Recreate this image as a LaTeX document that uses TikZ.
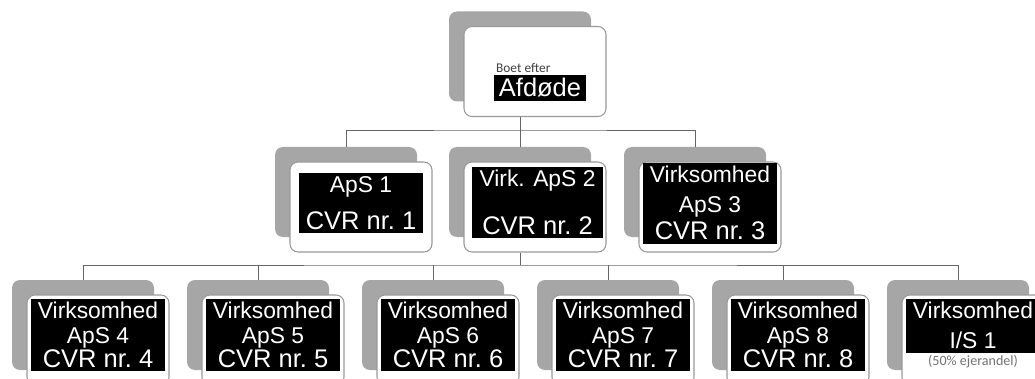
\documentclass[tikz,border=0pt]{standalone}
\usepackage{fontspec}
\setmainfont{Liberation Sans}
\newfontfamily\calfont{Carlito}
\usetikzlibrary{positioning}
\newcommand{\cvrfont}{\fontsize{14.5}{17}\selectfont}
\tikzset{
  shadowbox/.style={rectangle,rounded corners=0.16cm,fill=black!35,minimum width=2.84cm,minimum height=1.8cm,inner sep=0},
  frontbox/.style={rectangle,rounded corners=0.16cm,draw=black!40,line width=0.6pt,fill=white,minimum width=2.84cm,minimum height=1.8cm,inner sep=0},
  blacklabel/.style={rectangle,fill=black,text=white,align=center,inner xsep=4pt,inner ysep=2pt},
  treeline/.style={line width=0.5pt,color=black!60},
}
\begin{document}
\begin{tikzpicture}[font=\fontsize{13}{17}\selectfont]
\useasboundingbox (0,0) rectangle (20.7,7.56);
\clip (0,0) rectangle (20.7,7.56);

% top box
\node (S0) [shadowbox] at (10.4,6.43) {};
\node (B0) [frontbox] at (10.7,6.13) {};
\node (T0) [blacklabel,font=\fontsize{14.5}{17}\selectfont,inner xsep=3pt] at (10.8,5.8) {Afdøde};
\node (E0) [above=1pt of T0.north west,anchor=south west,xshift=0.05cm,inner sep=0,font=\calfont\fontsize{7.6}{9}\selectfont,text=black!75] {Boet efter};

% second row
\node (S1) [shadowbox] at (6.92,3.72) {};
\node (B1) [frontbox] at (7.22,3.42) {};
\node (S2) [shadowbox] at (10.4,3.72) {};
\node (B2) [frontbox] at (10.7,3.42) {};
\node (S3) [shadowbox] at (13.9,3.72) {};
\node (B3) [frontbox] at (14.2,3.42) {};
\node (T1) [blacklabel,anchor=north] at ([yshift=-0.22cm]B1.north) {ApS 1\\[4pt]{\cvrfont CVR nr.~1}};
\node (T2) [blacklabel,anchor=north] at ([xshift=0.05cm,yshift=-0.1cm]B2.north) {Virk. ApS 2\\[10pt]{\cvrfont CVR nr.~2}};
\node (T3) [blacklabel,anchor=north] at ([yshift=-0.02cm]B3.north) {Virksomhed\\ApS 3\\[-1.6pt]{\cvrfont CVR nr.~3}};

% third row
\node (S4) [shadowbox] at (1.66,1.06) {};
\node (B4) [frontbox] at (1.96,0.76) {};
\node (S5) [shadowbox] at (5.16,1.06) {};
\node (B5) [frontbox] at (5.46,0.76) {};
\node (S6) [shadowbox] at (8.66,1.06) {};
\node (B6) [frontbox] at (8.96,0.76) {};
\node (S7) [shadowbox] at (12.16,1.06) {};
\node (B7) [frontbox] at (12.46,0.76) {};
\node (S8) [shadowbox] at (15.66,1.06) {};
\node (B8) [frontbox] at (15.96,0.76) {};
\node (S9) [shadowbox] at (19.16,1.06) {};
\node (B9) [frontbox] at (19.46,0.76) {};
\node (T4) [blacklabel,anchor=north] at ([yshift=-0.08cm]B4.north) {Virksomhed\\[-3pt]ApS 4\\[-3.3pt]{\cvrfont CVR nr.~4}};
\node (T5) [blacklabel,anchor=north] at ([yshift=-0.08cm]B5.north) {Virksomhed\\[-3pt]ApS 5\\[-3.3pt]{\cvrfont CVR nr.~5}};
\node (T6) [blacklabel,anchor=north] at ([yshift=-0.08cm]B6.north) {Virksomhed\\[-3pt]ApS 6\\[-3.3pt]{\cvrfont CVR nr.~6}};
\node (T7) [blacklabel,anchor=north] at ([yshift=-0.08cm]B7.north) {Virksomhed\\[-3pt]ApS 7\\[-3.3pt]{\cvrfont CVR nr.~7}};
\node (T8) [blacklabel,anchor=north] at ([yshift=-0.08cm]B8.north) {Virksomhed\\[-3pt]ApS 8\\[-3.3pt]{\cvrfont CVR nr.~8}};
\node (T9) [blacklabel,anchor=north] at ([yshift=-0.08cm]B9.north) {Virksomhed\\I/S 1};
\node (P9) [below=0.04cm of T9,inner sep=0,font=\calfont\fontsize{8}{9}\selectfont,text=black!55] {(50\% ejerandel)};

% tree lines
\coordinate (J1) at (10.4,4.96);
\coordinate (J2) at (10.4,2.26);
\draw [treeline] (S0.south |- B0.south) -- (J1);
\draw [treeline] (S1.north) |- (J1) -| (S3.north);
\draw [treeline] (J1) -- (S2.north);
\draw [treeline] (S2.south |- B2.south) -- (J2);
\draw [treeline] (S4.north) |- (J2) -| (S9.north);
\draw [treeline] (J2 -| S5.north) -- (S5.north);
\draw [treeline] (J2 -| S6.north) -- (S6.north);
\draw [treeline] (J2 -| S7.north) -- (S7.north);
\draw [treeline] (J2 -| S8.north) -- (S8.north);
\end{tikzpicture}
\end{document}
